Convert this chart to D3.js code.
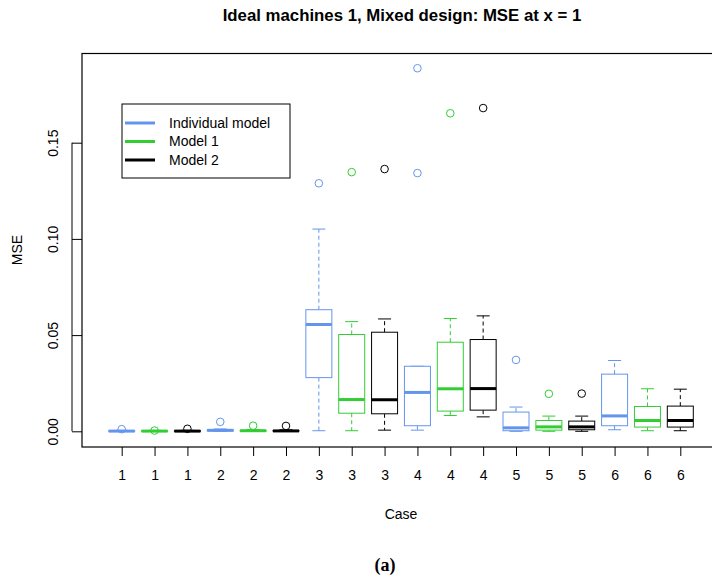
<!DOCTYPE html>
<html>
<head>
<meta charset="utf-8">
<script src="https://cdn.jsdelivr.net/npm/d3@7"></script>
<style>
  body { margin: 0; background: #fff; overflow: hidden; }
  text { font-family: "Liberation Sans", Arial, sans-serif; }
</style>
</head>
<body>
<div id="chart"></div>
<script>
// case label under each box (3 models per case)
var caseLabels = ["1","1","1","2","2","2","3","3","3","4","4","4","5","5","5","6","6","6"];
var models = ["Individual model", "Model 1", "Model 2"];
var colors = ["#6495ED", "#32CD32", "#000000"];

// box stats, one entry per box
var whiskLo = [0, 0, 0, 0, 0, 0, 0.0003, 0.0003, 0.0006, 0.0006, 0.0082, 0.0075, 0, 0, 0, 0.0008, 0.0003, 0.0003];
var q1      = [0, 0, 0, 0.0002, 0.0001, 0.0001, 0.0279, 0.0094, 0.0091, 0.0029, 0.0105, 0.0110, 0.0003, 0.0006, 0.0008, 0.0029, 0.0022, 0.0022];
var med     = [0.0001, 0.0001, 0.0001, 0.0005, 0.0003, 0.0002, 0.0555, 0.0165, 0.0164, 0.0202, 0.0221, 0.0222, 0.0018, 0.0023, 0.0023, 0.0080, 0.0056, 0.0056];
var q3      = [0.0003, 0.0003, 0.0003, 0.0008, 0.0005, 0.0004, 0.0632, 0.0503, 0.0515, 0.0338, 0.0463, 0.0477, 0.0100, 0.0056, 0.0053, 0.0297, 0.0129, 0.0131];
var whiskHi = [0.0005, 0.0005, 0.0005, 0.0012, 0.0009, 0.0008, 0.1051, 0.0570, 0.0584, 0.0338, 0.0586, 0.0600, 0.0126, 0.0079, 0.0079, 0.0368, 0.0221, 0.0219];
// outliers as [box index, value]
var outliers = [[0, 0.0011], [1, 0.0004], [2, 0.0013], [3, 0.0049], [4, 0.0029], [5, 0.0028],
                [6, 0.1289], [7, 0.1347], [8, 0.1363], [9, 0.1887], [9, 0.1342],
                [10, 0.1653], [11, 0.1680], [12, 0.0371], [13, 0.0195], [14, 0.0196]];
var yTicks = [0, 0.05, 0.10, 0.15];

var W = 712, H = 578;
var svg = d3.select("#chart").append("svg").attr("width", W).attr("height", H);

// plot region (right edge runs off the canvas in the original)
var pLeft = 82, pRight = 721, pTop = 53.5, pBottom = 447;
var x = d3.scaleLinear().domain([1, 18]).range([121.7, 680.3]);
var y = d3.scaleLinear().domain([0, 0.15]).range([431.3, 142.7]);
var boxW = 26, capW = 13;

// plot frame
svg.append("rect").attr("x", pLeft).attr("y", pTop).attr("width", pRight - pLeft).attr("height", pBottom - pTop)
  .attr("fill", "none").attr("stroke", "#000").attr("stroke-width", 1.2);

// y axis
var yAxis = svg.append("g").attr("transform", "translate(" + pLeft + ",0)")
  .call(d3.axisLeft(y).tickValues(yTicks).tickFormat(d3.format(".2f")).tickSize(10).tickSizeOuter(0));
yAxis.select(".domain").attr("d", "M-10," + y(0) + "V" + y(0.15)).attr("stroke", "#000");
yAxis.selectAll(".tick line").attr("stroke", "#000");
yAxis.selectAll(".tick text")
  .attr("transform", "rotate(-90)")
  .attr("x", 0).attr("y", -29).attr("dy", "0.35em")
  .style("text-anchor", "middle").style("font-size", "14px").attr("fill", "#000");

// x axis
var xAxis = svg.append("g").attr("transform", "translate(0," + pBottom + ")")
  .call(d3.axisBottom(x).tickValues(d3.range(1, 19)).tickFormat(function(d) { return caseLabels[d - 1]; }).tickSize(9).tickSizeOuter(0));
xAxis.select(".domain").remove();
xAxis.selectAll(".tick line").attr("stroke", "#000");
xAxis.selectAll(".tick text").attr("y", 28).attr("dy", "0.35em").style("font-size", "14px").attr("fill", "#000");

// boxes
var idx = d3.range(caseLabels.length);
var boxes = svg.append("g").selectAll("g").data(idx).enter().append("g");
boxes.each(function(i) {
  var g = d3.select(this), cx = x(i + 1), col = colors[i % 3];
  // whiskers
  g.append("line").attr("x1", cx).attr("x2", cx).attr("y1", y(q3[i])).attr("y2", y(whiskHi[i]))
    .attr("stroke", col).attr("stroke-dasharray", "4,3");
  g.append("line").attr("x1", cx).attr("x2", cx).attr("y1", y(q1[i])).attr("y2", y(whiskLo[i]))
    .attr("stroke", col).attr("stroke-dasharray", "4,3");
  g.append("line").attr("x1", cx - capW / 2).attr("x2", cx + capW / 2).attr("y1", y(whiskHi[i])).attr("y2", y(whiskHi[i])).attr("stroke", col);
  g.append("line").attr("x1", cx - capW / 2).attr("x2", cx + capW / 2).attr("y1", y(whiskLo[i])).attr("y2", y(whiskLo[i])).attr("stroke", col);
  g.append("rect").attr("x", cx - boxW / 2).attr("width", boxW)
    .attr("y", y(q3[i])).attr("height", Math.max(0, y(q1[i]) - y(q3[i])))
    .attr("fill", "#fff").attr("stroke", col);
  g.append("line").attr("x1", cx - boxW / 2).attr("x2", cx + boxW / 2).attr("y1", y(med[i])).attr("y2", y(med[i]))
    .attr("stroke", col).attr("stroke-width", 3);
});

svg.append("g").selectAll("circle").data(outliers).enter().append("circle")
  .attr("cx", function(d) { return x(d[0] + 1); })
  .attr("cy", function(d) { return y(d[1]); })
  .attr("r", 3.8).attr("fill", "none")
  .attr("stroke", function(d) { return colors[d[0] % 3]; }).attr("stroke-width", 1);

// legend
var lg = svg.append("g");
lg.append("rect").attr("x", 122).attr("y", 104).attr("width", 168).attr("height", 74)
  .attr("fill", "#fff").attr("stroke", "#000");
models.forEach(function(m, k) {
  var ly = 123 + k * 18.5;
  lg.append("line").attr("x1", 125).attr("x2", 155).attr("y1", ly).attr("y2", ly)
    .attr("stroke", colors[k]).attr("stroke-width", 3);
  lg.append("text").attr("x", 169).attr("y", ly).attr("dy", "0.35em").style("font-size", "14px").text(m);
});

// titles
svg.append("text").attr("x", 402).attr("y", 21).attr("text-anchor", "middle")
  .style("font-size", "16.8px").style("font-weight", "bold")
  .text("Ideal machines 1, Mixed design: MSE at x = 1");
svg.append("text").attr("x", 401).attr("y", 519).attr("text-anchor", "middle")
  .style("font-size", "14px").text("Case");
svg.append("text").attr("transform", "translate(22,250) rotate(-90)").attr("text-anchor", "middle")
  .style("font-size", "14px").text("MSE");
svg.append("text").attr("x", 385).attr("y", 571).attr("text-anchor", "middle")
  .style("font-family", "'Liberation Serif', 'Times New Roman', serif")
  .style("font-size", "18px").style("font-weight", "bold").text("(a)");
</script>
</body>
</html>
